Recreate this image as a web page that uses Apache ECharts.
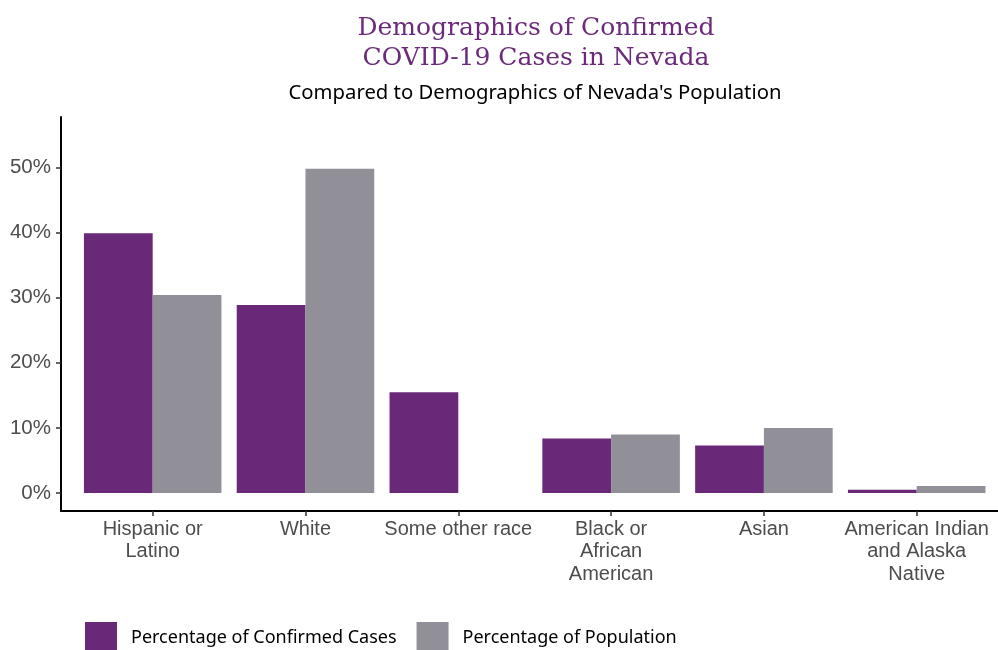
<!DOCTYPE html>
<html>
<head>
<meta charset="utf-8">
<script src="https://cdn.jsdelivr.net/npm/echarts@6/dist/echarts.min.js"></script>
<style>
  html, body { margin: 0; padding: 0; background: #fff; }
  #chart { width: 998px; height: 650px; }
</style>
</head>
<body>
<div id="chart"></div>
<script>
// categories (x axis), one bar group each
const categories = [
  'Hispanic or\nLatino',
  'White',
  'Some other race',
  'Black or\nAfrican\nAmerican',
  'Asian',
  'American Indian\nand Alaska\nNative'
];
// percent values
const casesPct = [39.9, 28.9, 15.5, 8.4, 7.3, 0.5];
const populationPct = [30.4, 49.8, null, 9.0, 10.0, 1.1];
const yTicks = [0, 10, 20, 30, 40, 50];
const xTicks = categories.map((c, i) => i + 1);

const purple = '#692878';
const grey = '#918f98';
const axisFont = 'Liberation Sans, Arial, sans-serif';

const chart = echarts.init(document.getElementById('chart'), null, { renderer: 'canvas' });

chart.setOption({
  animation: false,
  backgroundColor: '#fff',
  title: [
    {
      text: 'Demographics of Confirmed\nCOVID-19 Cases in Nevada',
      left: 531,
      top: 9,
      textAlign: 'center',
      textStyle: {
        fontFamily: 'DejaVu Serif, serif',
        fontWeight: 'normal',
        fontSize: 25,
        lineHeight: 29.5,
        color: '#6b2b7a'
      }
    },
    {
      text: "Compared to Demographics of Nevada's Population",
      left: 530,
      top: 78,
      textAlign: 'center',
      textStyle: {
        fontFamily: 'Noto Sans, sans-serif',
        fontWeight: 'normal',
        fontSize: 20.3,
        color: '#000'
      }
    }
  ],
  legend: {
    left: 85,
    top: 622,
    padding: 0,
    orient: 'horizontal',
    icon: 'rect',
    itemWidth: 32,
    itemHeight: 32,
    itemGap: 20,
    textStyle: {
      fontFamily: 'Noto Sans, sans-serif',
      fontSize: 18,
      color: '#000',
      padding: [0, 0, 0, 9]
    },
    data: ['Percentage of Confirmed Cases', 'Percentage of Population']
  },
  grid: {
    left: 61,
    top: 117,
    bottom: 139,
    right: 0,
    containLabel: false
  },
  xAxis: {
    type: 'value',
    // ggplot style padding of 0.6 category on the left, cut at the right edge
    min: 0.4,
    max: 6.532,
    axisLine: { show: true, onZero: false, lineStyle: { color: '#000', width: 2 } },
    axisTick: { show: true, length: 5, customValues: xTicks, lineStyle: { color: '#333', width: 1.5 } },
    axisLabel: {
      customValues: xTicks,
      formatter: v => categories[Math.round(v) - 1] || '',
      fontFamily: axisFont,
      fontSize: 20,
      lineHeight: 22.5,
      color: '#4d4d4d',
      margin: 7
    },
    splitLine: { show: false }
  },
  yAxis: {
    type: 'value',
    min: -2.75,
    max: 57.75,
    axisLine: { show: true, onZero: false, lineStyle: { color: '#000', width: 2 } },
    axisTick: { show: true, length: 5, customValues: yTicks, lineStyle: { color: '#333', width: 1.5 } },
    axisLabel: {
      customValues: yTicks,
      formatter: v => v + '%',
      fontFamily: axisFont,
      fontSize: 20.5,
      color: '#4d4d4d',
      margin: 10
    },
    splitLine: { show: false }
  },
  series: [
    {
      name: 'Percentage of Confirmed Cases',
      type: 'bar',
      barGap: '0%',
      barCategoryGap: '10%',
      itemStyle: { color: purple },
      data: casesPct.map((v, i) => [i + 1, v])
    },
    {
      name: 'Percentage of Population',
      type: 'bar',
      barGap: '0%',
      barCategoryGap: '10%',
      itemStyle: { color: grey },
      data: populationPct.map((v, i) => [i + 1, v])
    }
  ]
});
</script>
</body>
</html>
